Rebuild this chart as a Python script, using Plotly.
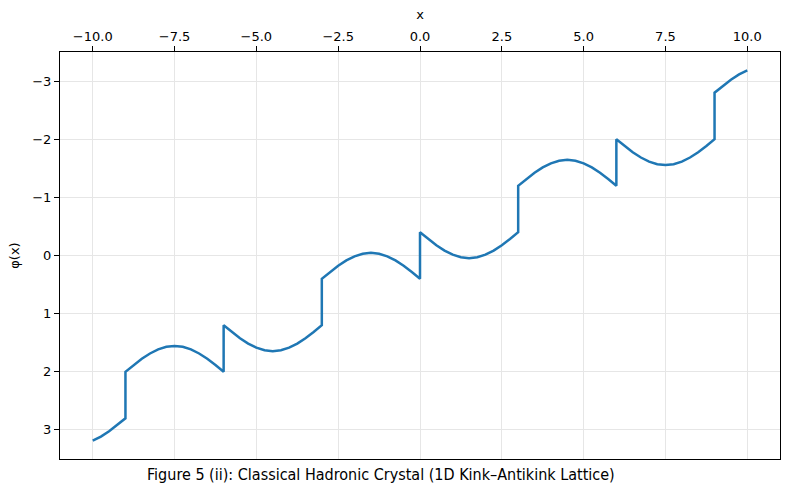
import plotly.graph_objects as go

x_vals = [
    -10.0, -9.75, -9.5, -9.25, -9.0,
    -9.0, -8.75, -8.5, -8.25, -8.0, -7.75, -7.5, -7.25, -7.0, -6.75, -6.5, -6.25, -6.0,
    -6.0, -5.75, -5.5, -5.25, -5.0, -4.75, -4.5, -4.25, -4.0, -3.75, -3.5, -3.25, -3.0,
    -3.0, -2.75, -2.5, -2.25, -2.0, -1.75, -1.5, -1.25, -1.0, -0.75, -0.5, -0.25, 0.0,
    0.0, 0.25, 0.5, 0.75, 1.0, 1.25, 1.5, 1.75, 2.0, 2.25, 2.5, 2.75, 3.0,
    3.0, 3.25, 3.5, 3.75, 4.0, 4.25, 4.5, 4.75, 5.0, 5.25, 5.5, 5.75, 6.0,
    6.0, 6.25, 6.5, 6.75, 7.0, 7.25, 7.5, 7.75, 8.0, 8.25, 8.5, 8.75, 9.0,
    9.0, 9.25, 9.5, 9.75, 10.0,
]
phi_vals = [
    3.185, 3.115, 3.023, 2.915, 2.800,
    2.000, 1.885, 1.777, 1.685, 1.615, 1.570, 1.555, 1.570, 1.615, 1.685, 1.777, 1.885, 2.000,
    1.200, 1.315, 1.423, 1.515, 1.585, 1.630, 1.645, 1.630, 1.585, 1.515, 1.423, 1.315, 1.200,
    0.400, 0.285, 0.177, 0.085, 0.015, -0.030, -0.045, -0.030, 0.015, 0.085, 0.177, 0.285, 0.400,
    -0.400, -0.285, -0.177, -0.085, -0.015, 0.030, 0.045, 0.030, -0.015, -0.085, -0.177, -0.285, -0.400,
    -1.200, -1.315, -1.423, -1.515, -1.585, -1.630, -1.645, -1.630, -1.585, -1.515, -1.423, -1.315, -1.200,
    -2.000, -1.885, -1.777, -1.685, -1.615, -1.570, -1.555, -1.570, -1.615, -1.685, -1.777, -1.885, -2.000,
    -2.800, -2.915, -3.023, -3.115, -3.185,
]

x_tick_vals = [-10.0, -7.5, -5.0, -2.5, 0.0, 2.5, 5.0, 7.5, 10.0]
x_tick_text = ["\u221210.0", "\u22127.5", "\u22125.0", "\u22122.5", "0.0", "2.5", "5.0", "7.5", "10.0"]
y_tick_vals = [-3, -2, -1, 0, 1, 2, 3]
y_tick_text = ["\u22123", "\u22122", "\u22121", "0", "1", "2", "3"]

title_text = "Figure 5 (ii): Classical Hadronic Crystal (1D Kink\u2013Antikink Lattice)"

FONT = "DejaVu Sans"
GRID = "#e6e6e6"

fig = go.Figure()
fig.add_trace(go.Scatter(
    x=x_vals, y=phi_vals, mode="lines",
    line=dict(color="#1f77b4", width=2.5),
    showlegend=False,
))

fig.update_layout(
    width=790, height=490,
    margin=dict(l=60, r=10, t=52, b=31),
    paper_bgcolor="white", plot_bgcolor="white",
    font=dict(family=FONT, size=13, color="black"),
    title=dict(text=title_text, x=147 / 790, xanchor="left",
               y=16 / 490, yanchor="middle",
               xref="container", yref="container",
               font=dict(family="DejaVu Sans Condensed, DejaVu Sans", size=16, color="black")),
)
fig.update_xaxes(
    side="top", range=[-11, 11],
    tickvals=x_tick_vals, ticktext=x_tick_text,
    ticks="outside", ticklen=5, tickwidth=1, tickcolor="black",
    showline=True, linecolor="black", linewidth=1, mirror=True,
    showgrid=True, gridcolor=GRID, gridwidth=1, zeroline=False,
    title=dict(text="x", font=dict(family=FONT, size=13), standoff=6),
)
fig.update_yaxes(
    range=[3.5, -3.5],
    tickvals=y_tick_vals, ticktext=y_tick_text,
    ticks="outside", ticklen=5, tickwidth=1, tickcolor="black",
    showline=True, linecolor="black", linewidth=1, mirror=True,
    showgrid=True, gridcolor=GRID, gridwidth=1, zeroline=False,
    title=dict(text="\u03c6(x)", font=dict(family=FONT, size=13), standoff=9),
)

fig.write_html("out.html")
